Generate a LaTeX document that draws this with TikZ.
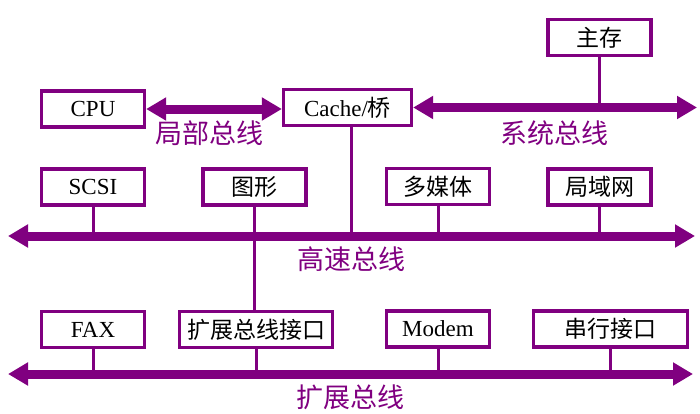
\documentclass[tikz,border=0pt]{standalone}
\usepackage{fontspec}
\setmainfont{Liberation Serif}
\newfontfamily\cjk{Noto Sans CJK SC}
\usepackage{tikz}
\usetikzlibrary{arrows.meta}
\definecolor{buspurple}{RGB}{128,0,128}
\tikzstyle{unit}     = [draw=buspurple, line width=3.3pt, fill=white, minimum width=103pt, minimum height=36pt, inner sep=2pt, font=\fontsize{23}{27}\selectfont]
\tikzstyle{bus}      = [draw=buspurple, line width=9pt, {Triangle[length=20pt,width=22pt]}-{Triangle[length=20pt,width=22pt]}]
\tikzstyle{link}     = [draw=buspurple, line width=3pt]
\tikzstyle{buslabel} = [text=buspurple, font=\cjk\fontsize{27}{30}\selectfont]

\begin{document}
\begin{tikzpicture}[x=1pt,y=-1pt]
		\useasboundingbox (0,0) rectangle (700,413);

		\coordinate (sysR) at (697,108);
		\coordinate (hsL) at (8,236);
		\coordinate (hsR) at (695,236);
		\coordinate (exL) at (8,374);
		\coordinate (exR) at (693,374);

		\node[unit] (cpu) at (93,109) {CPU};
		\node[unit, minimum width=128pt] (cache) at (347.5,107.5) {Cache/{\cjk 桥}};
		\node[unit] (mem) at (599.5,37.5) {\cjk 主存};

		\node[unit] (scsi) at (93,187) {SCSI};
		\node[unit] (graph) at (254.5,187) {\cjk 图形};
		\node[unit] (media) at (438,186.5) {\cjk 多媒体};
		\node[unit] (lan) at (599.5,187) {\cjk 局域网};

		\node[unit] (fax) at (93,329.5) {FAX};
		\node[unit, minimum width=153pt] (extif) at (256,329.5) {\cjk 扩展总线接口};
		\node[unit] (modem) at (438,329) {Modem};
		\node[unit, minimum width=154pt] (serial) at (610.5,329) {\cjk 串行接口};

		\draw[link] (mem.south) -- (mem.south |- sysR);
		\draw[link] ([xshift=4pt]cache.south) -- ([xshift=4pt]cache.south |- hsL);
		\foreach \n in {scsi,media,lan}
			\draw[link] (\n.south) -- (\n.south |- hsL);
		\draw[link] (graph.south) -- (graph.south |- extif.north);
		\foreach \n in {fax,extif,modem,serial}
			\draw[link] (\n.south) -- (\n.south |- exL);

		\draw[bus] (cpu.east) -- (cpu.east -| cache.west);
		\draw[bus] (cache.east) -- (cache.east -| sysR);
		\draw[bus] (hsL) -- (hsR);
		\draw[bus] (exL) -- (exR);

		\node[buslabel] (lblocal) at (209,133) {局部总线};
		\node[buslabel] (lbsys) at (554,133) {系统总线};
		\node[buslabel] (lbhs) at (351,259) {高速总线};
		\node[buslabel] (lbext) at (350,397) {扩展总线};
	\end{tikzpicture}
\end{document}
